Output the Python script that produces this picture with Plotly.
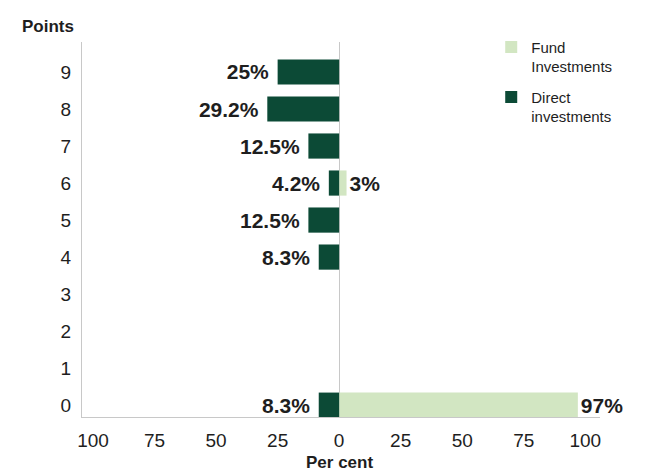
import plotly.graph_objects as go

# Points scored (y categories) and share of investments per score, in per cent
points = [0, 1, 2, 3, 4, 5, 6, 7, 8, 9]
fund_pct = [97, None, None, None, None, None, 3, None, None, None]
direct_pct = [8.3, None, None, None, 8.3, 12.5, 4.2, 12.5, 29.2, 25]

x_tickvals = [-100, -75, -50, -25, 0, 25, 50, 75, 100]
x_ticktext = ["100", "75", "50", "25", "0", "25", "50", "75", "100"]

FUND_COLOR = "#d2e6c2"
DIRECT_COLOR = "#0c4a36"
TEXT_COLOR = "#1e1e1e"
FONT = "Liberation Sans, Arial, sans-serif"
NBSP = "\u00a0"


def pct_label(v, pad_left="", pad_right=""):
    if v is None:
        return None
    return f"{pad_left}{v:g}%{pad_right}"


fig = go.Figure()

fig.add_trace(go.Bar(
    name="Fund<br>Investments",
    legendgroup="fund",
    y=points,
    x=fund_pct,
    orientation="h",
    marker=dict(color=FUND_COLOR, line=dict(width=0)),
    width=0.68,
    text=[pct_label(v) for v in fund_pct],
    textposition="outside",
    textfont=dict(family=FONT, size=21, color=TEXT_COLOR, weight="bold"),
    cliponaxis=False,
))

fig.add_trace(go.Bar(
    name="Direct<br>investments",
    legendgroup="direct",
    y=points,
    x=[-v if v is not None else None for v in direct_pct],
    orientation="h",
    marker=dict(color=DIRECT_COLOR, line=dict(width=0)),
    width=0.68,
    text=[pct_label(v, pad_right=NBSP) for v in direct_pct],
    textposition="outside",
    textfont=dict(family=FONT, size=21, color=TEXT_COLOR, weight="bold"),
    cliponaxis=False,
))

fig.update_layout(
    width=653,
    height=475,
    margin=dict(l=82, r=53, t=42, b=58),
    paper_bgcolor="white",
    plot_bgcolor="white",
    barmode="relative",
    font=dict(family=FONT, size=19, color=TEXT_COLOR),
    showlegend=True,
    legend=dict(
        x=0.79, y=1.03, xanchor="left", yanchor="top",
        font=dict(family=FONT, size=15, color=TEXT_COLOR),
        valign="top",
        tracegroupgap=8,
        bgcolor="rgba(0,0,0,0)",
    ),
    uniformtext=dict(mode=False),
)

fig.update_xaxes(
    range=[-104.5, 106],
    tickvals=x_tickvals,
    ticktext=x_ticktext,
    showgrid=False,
    zeroline=True,
    zerolinecolor="#c8c8c8",
    zerolinewidth=1,
    showline=True,
    linecolor="#c8c8c8",
    linewidth=1,
    ticks="outside",
    ticklen=6,
    tickcolor="rgba(0,0,0,0)",
    tickfont=dict(family=FONT, size=19, color=TEXT_COLOR),
    automargin=False,
    fixedrange=True,
)

fig.update_yaxes(
    range=[-0.32, 9.81],
    tickvals=points,
    ticktext=[str(p) for p in points],
    showgrid=False,
    zeroline=False,
    showline=True,
    linecolor="#c8c8c8",
    linewidth=1,
    ticks="outside",
    ticklen=6,
    tickcolor="rgba(0,0,0,0)",
    tickfont=dict(family=FONT, size=19, color=TEXT_COLOR),
    automargin=False,
    fixedrange=True,
)

fig.add_annotation(
    text="<b>Points</b>",
    xref="paper", yref="paper",
    x=-0.12, y=1.0, xanchor="left", yanchor="bottom",
    yshift=4,
    showarrow=False,
    font=dict(family=FONT, size=17, color=TEXT_COLOR),
)

fig.add_annotation(
    text="<b>Per cent</b>",
    xref="x", yref="paper",
    x=0, y=0, xanchor="center", yanchor="middle",
    yshift=-45,
    showarrow=False,
    font=dict(family=FONT, size=17, color=TEXT_COLOR),
)

fig.write_html("out.html")
